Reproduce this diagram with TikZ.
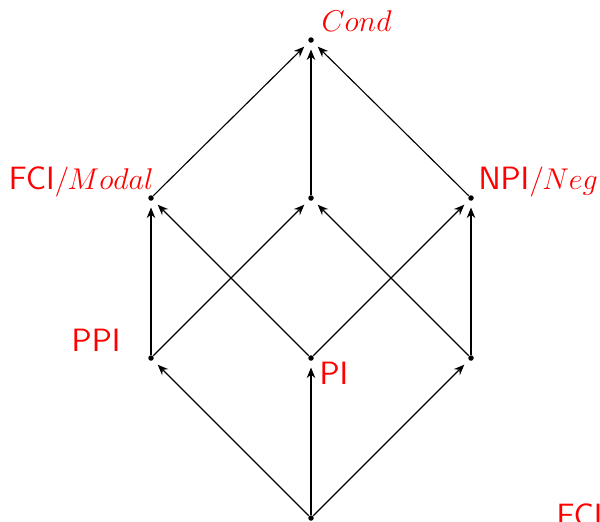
\documentclass[tikz,border=0pt]{standalone}
\usetikzlibrary{arrows.meta}
\newcommand{\sfl}[1]{{\fontsize{12.9}{15}\selectfont\sffamily #1}}
\begin{document}
\begin{tikzpicture}[x=0.4pt,y=-0.4pt,
  dot/.style={circle,fill=black,inner sep=0pt,minimum size=2.2pt},
  arr/.style={-{Stealth[length=4.2pt,width=3.4pt]},line width=0.45pt,shorten >=2.5pt},
  lab/.style={text=red,inner sep=0pt,font=\fontsize{12.6}{14}\selectfont}]
\useasboundingbox (0,0) rectangle (600,521);
\node[dot] (t) at (311,40) {};
\node[dot] (l) at (151,198) {};
\node[dot] (m) at (311,198) {};
\node[dot] (r) at (471,198) {};
\node[dot] (ll) at (151,358) {};
\node[dot] (lm) at (311,358) {};
\node[dot] (lr) at (471,358) {};
\node[dot] (b) at (311,518) {};
\foreach \s/\e in {b/ll,b/lm,b/lr,ll/l,ll/m,lm/l,lm/r,lr/m,lr/r,l/t,m/t,r/t}
  \draw[arr] (\s) -- (\e);
\node[lab,anchor=base west] (cond) at (321,31) {$Cond$};
\node[lab,anchor=base east] (fci) at (154,189) {\sfl{FCI}$/Modal$};
\node[lab,anchor=base west] (npi) at (478,189) {\sfl{NPI}$/Neg$};
\node[lab,anchor=base east] (ppi) at (121,351) {\sfl{PPI}};
\node[lab,anchor=base west] (pi) at (319,384) {\sfl{PI}};
\node[lab,anchor=base west] (fci2) at (556,526) {\sfl{FCI}};
\end{tikzpicture}
\end{document}
